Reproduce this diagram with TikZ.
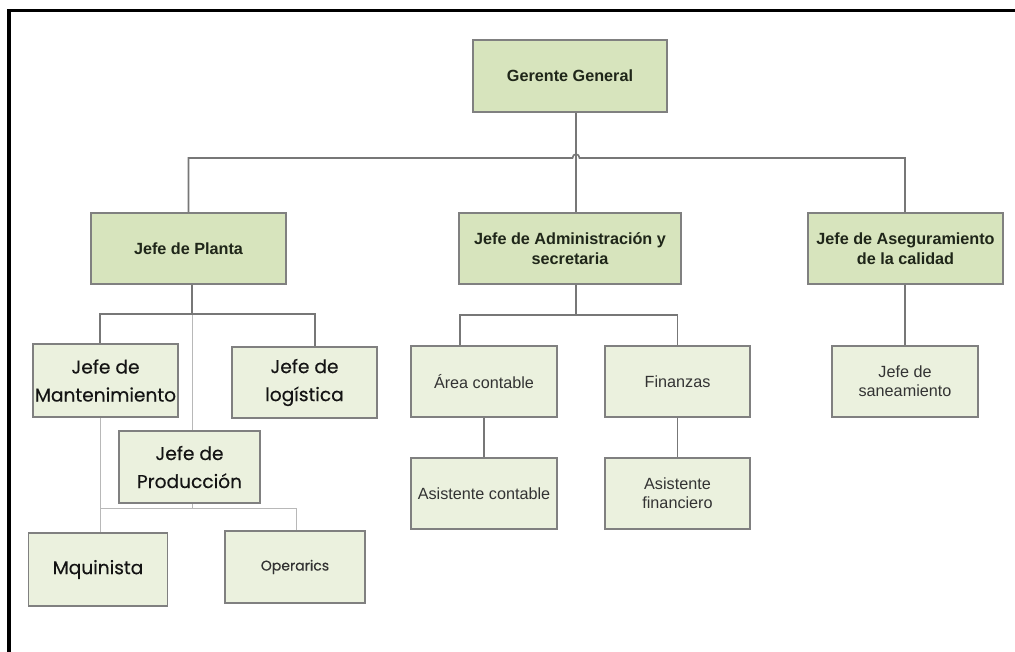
\documentclass[tikz,border=0pt]{standalone}
\usepackage{fontspec}
\setmainfont{Liberation Sans}
\newfontfamily\gothic{Poppins}[FakeBold=0.3]
\begin{document}
\begin{tikzpicture}[x=1pt,y=-1pt,
  box/.style={draw=boxline,line width=1.8pt,inner sep=0pt,align=center},
  headbox/.style={box,fill=headfill,text=headtext,
    font=\bfseries\fontsize{16.2}{20}\selectfont},
  plainbox/.style={box,fill=subfill,text=plaintext,
    font=\fontsize{16.2}{19}\selectfont},
  gothbox/.style={box,fill=subfill,text=gothtext,
    font=\gothic\fontsize{18.6}{28}\selectfont},
  link/.style={draw=linkdark,line width=1.6pt},
  thinlink/.style={draw=linklight,line width=1pt}]
\definecolor{headfill}{HTML}{D7E4BD}
\definecolor{subfill}{HTML}{EBF1DE}
\definecolor{boxline}{HTML}{808080}
\definecolor{headtext}{HTML}{1F2619}
\definecolor{plaintext}{HTML}{333333}
\definecolor{gothtext}{HTML}{141414}
\definecolor{linkdark}{HTML}{777777}
\definecolor{linklight}{HTML}{B8B8B8}

\useasboundingbox (0,0) rectangle (1015,652);
\fill[white] (0,0) rectangle (1015,652);

% outer frame (open to the right and bottom)
\draw[line width=3.5pt] (9,652) -- (9,10.5) -- (1015,10.5);

% top level
\node[headbox,minimum width=194pt,minimum height=72pt] (ger) at (570,76) {Gerente General};

% second level
\node[headbox,minimum width=195pt,minimum height=71pt] (planta) at (188.5,248.5) {Jefe de Planta};
\node[headbox,minimum width=222pt,minimum height=71pt] (admin) at (570,248.5) {Jefe de Administración y\\secretaria};
\node[headbox,minimum width=195pt,minimum height=71pt] (aseg) at (905.5,248.5) {Jefe de Aseguramiento\\de la calidad};

% plant branch
\node[gothbox,minimum width=145pt,minimum height=73pt] (mant) at (105.5,380.5) {Jefe de\\Mantenimiento};
\node[gothbox,minimum width=145pt,minimum height=71pt] (logi) at (304.5,382.5) {Jefe de\\logística};
\node[gothbox,minimum width=141pt,minimum height=72pt] (prod) at (189.5,467) {Jefe de\\Producción};
\node[gothbox,minimum width=139pt,minimum height=73pt] (maq) at (98,569.5) {Mquinista};
\node[gothbox,minimum width=140pt,minimum height=72pt,text=plaintext,
  font=\gothic\fontsize{14}{17}\selectfont] (oper) at (295,567) {Operarics};

% administration branch
\node[plainbox,minimum width=146pt,minimum height=71pt] (area) at (484,381.5) {Área contable};
\node[plainbox,minimum width=145pt,minimum height=71pt] (fin) at (677.5,381.5) {Finanzas};
\node[plainbox,minimum width=146pt,minimum height=71pt] (asc) at (484,493.5) {Asistente contable};
\node[plainbox,minimum width=145pt,minimum height=71pt] (asf) at (677.5,493.5) {Asistente\\financiero};

% quality branch
\node[plainbox,minimum width=146pt,minimum height=71pt] (sane) at (905,381.5) {Jefe de\\saneamiento};

% bus junctions
\coordinate (busL) at (188.5,158);
\coordinate (busR) at (905,158);
\coordinate (hopL) at (572.5,158);
\coordinate (hopR) at (579.5,158);
\coordinate (admBus) at (576,315);
\coordinate (admL) at (460,315);
\coordinate (admR) at (677.5,315);
\coordinate (plBus) at (192,315);
\coordinate (prBusL) at (100,508);
\coordinate (prBusM) at (192,508);

% top connectors
\draw[link] ([xshift=6pt]ger.south) -- ([xshift=6pt]admin.north);
\draw[link] (planta.north) -- (busL) -- (hopL)
  .. controls (572.5,153) and (579.5,153) .. (hopR) -- (busR) -- (busR |- aseg.north);

% administration connectors
\draw[link] ([xshift=6pt]admin.south) -- (admBus);
\draw[link] (admL |- area.north) -- (admL) -- (admR) -- (fin.north);
\draw[link] (area.south) -- (asc.north);
\draw[link] (fin.south) -- (asf.north);

% quality connector
\draw[link] (sane.north |- aseg.south) -- (sane.north);

% plant connectors
\draw[link] ([xshift=3.5pt]planta.south) -- (plBus);
\draw[link] ([xshift=-5.5pt]mant.north) -- ++(0,-29) -| ([xshift=10.5pt]logi.north);
\draw[thinlink] (plBus) -- ([xshift=2.5pt]prod.north);
\draw[thinlink] ([xshift=-5.5pt]mant.south) -- ([xshift=2pt]maq.north);
\draw[thinlink] ([xshift=2.5pt]prod.south) -- (prBusM);
\draw[thinlink] (prBusL) -| ([xshift=1pt]oper.north);
\end{tikzpicture}
\end{document}
